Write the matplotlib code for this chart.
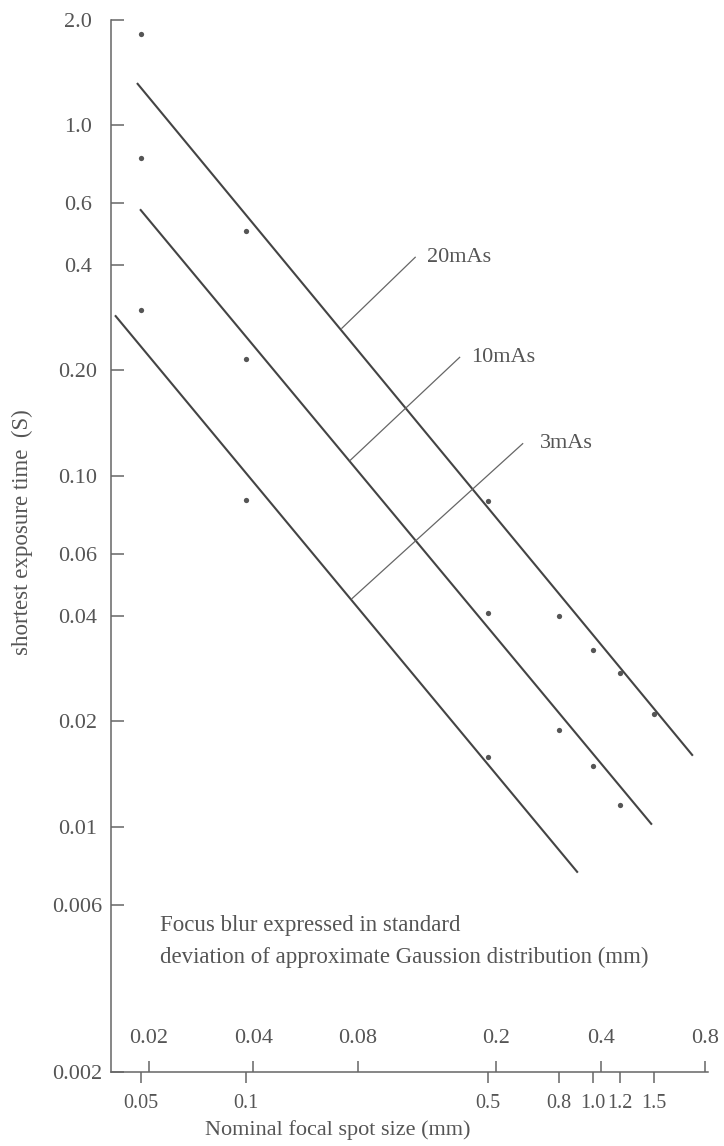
import matplotlib
matplotlib.use("Agg")
import matplotlib.pyplot as plt
from matplotlib.ticker import NullLocator, FixedLocator, FixedFormatter

plt.rcParams['font.family'] = ['Liberation Serif', 'DejaVu Serif']

# ---- measured exposure times (s) against nominal focal spot size (mm) ----
spot_20mAs = [0.05, 0.1, 0.5, 0.8, 1.0, 1.2, 1.5]
time_20mAs = [1.82, 0.50, 0.085, 0.040, 0.032, 0.0274, 0.0209]

spot_10mAs = [0.05, 0.1, 0.5, 0.8, 1.0, 1.2]
time_10mAs = [0.805, 0.216, 0.0406, 0.0189, 0.0149, 0.0115]

spot_3mAs = [0.05, 0.1, 0.5]
time_3mAs = [0.298, 0.0854, 0.0158]

# ---- fitted straight lines (log-log), start/end points ----
fit_labels = ["20mAs", "10mAs", "3mAs"]
fit_x_start = [0.0487, 0.0497, 0.0421]
fit_x_end = [1.94, 1.479, 0.905]
fit_y_start = [1.318, 0.5757, 0.287]
fit_y_end = [0.01594, 0.01014, 0.0074]

# leader lines from each fit to its label
leader_x_start = [0.1894, 0.200, 0.2025]
leader_y_start = [0.2636, 0.1107, 0.0447]
leader_x_end = [0.308, 0.4135, 0.628]
leader_y_end = [0.420, 0.2178, 0.1236]
label_x = [0.333, 0.446, 0.706]

# ---- axis ticks ----
y_ticks = [2.0, 1.0, 0.6, 0.4, 0.20, 0.10, 0.06, 0.04, 0.02, 0.01, 0.006, 0.002]
y_tick_labels = ["2.0", "1.0", "0.6", "0.4", "0.20", "0.10", "0.06", "0.04",
                 "0.02", "0.01", "0.006", "0.002"]
spot_ticks = [0.05, 0.1, 0.5, 0.8, 1.0, 1.2, 1.5]
spot_tick_labels = ["0.05", "0.1", "0.5", "0.8", "1.0", "1.2", "1.5"]
sigma_ticks = [0.02, 0.04, 0.08, 0.2, 0.4, 0.8]
sigma_tick_labels = ["0.02", "0.04", "0.08", "0.2", "0.4", "0.8"]
sigma_per_spot = 0.38  # Gaussian standard deviation per mm of nominal spot size

x_limits = (0.0410, 2.145)
y_limits = (0.002, 2.0)

TEXT = "#555555"
INK = "#444444"
AXIS = "#666666"
TICK_FS = 16
SPOT_FS = 14.5
NOTE_FS = 16.5

W, H = 724, 1146
fig = plt.figure(figsize=(W / 100, H / 100), dpi=100)
ax = fig.add_axes([111 / W, (H - 1072) / H, (708 - 111) / W, (1072 - 19.5) / H])

ax.set_xscale("log")
ax.set_yscale("log")
ax.set_xlim(*x_limits)
ax.set_ylim(*y_limits)

# points
for xs, ys in [(spot_20mAs, time_20mAs), (spot_10mAs, time_10mAs), (spot_3mAs, time_3mAs)]:
    ax.plot(xs, ys, linestyle="none", marker="o", markersize=3.8,
            color="#555555", markeredgewidth=0)

# fitted lines, leaders and labels
for i, name in enumerate(fit_labels):
    ax.plot([fit_x_start[i], fit_x_end[i]], [fit_y_start[i], fit_y_end[i]],
            color=INK, linewidth=1.5, solid_capstyle="butt")
    ax.plot([leader_x_start[i], leader_x_end[i]], [leader_y_start[i], leader_y_end[i]],
            color="#666666", linewidth=0.9)
    ax.text(label_x[i], leader_y_end[i], name, fontsize=16, color=TEXT,
            ha="left", va="center")

# spines
for side in ("top", "right"):
    ax.spines[side].set_visible(False)
for side in ("left", "bottom"):
    ax.spines[side].set_color(AXIS)
    ax.spines[side].set_linewidth(1.1)

# y axis ticks (inward, labels centred in a column)
ax.yaxis.set_major_locator(FixedLocator(y_ticks))
ax.yaxis.set_major_formatter(FixedFormatter(y_tick_labels))
ax.yaxis.set_minor_locator(NullLocator())
ax.tick_params(axis="y", direction="in", length=9, width=1.1, color=AXIS,
               labelsize=TICK_FS, labelcolor=TEXT, pad=24)
plt.setp(ax.get_yticklabels(), ha="center")

# nominal focal spot ticks (below the axis)
ax.xaxis.set_major_locator(FixedLocator(spot_ticks))
ax.xaxis.set_major_formatter(FixedFormatter(spot_tick_labels))
ax.xaxis.set_minor_locator(NullLocator())
ax.tick_params(axis="x", direction="out", length=8, width=1.1, color=AXIS,
               labelsize=SPOT_FS, labelcolor=TEXT, pad=8)

# Gaussian sigma scale drawn on the same baseline, ticks pointing up
sec = ax.secondary_xaxis(0, functions=(lambda n: n * sigma_per_spot,
                                       lambda s: s / sigma_per_spot))
sec.xaxis.set_major_locator(FixedLocator(sigma_ticks))
sec.xaxis.set_major_formatter(FixedFormatter(sigma_tick_labels))
sec.xaxis.set_minor_locator(NullLocator())
sec.xaxis.set_ticks_position("top")
sec.tick_params(axis="x", which="both", direction="out", length=8, width=1.1,
                color=AXIS, labelsize=TICK_FS, labelcolor=TEXT, pad=9,
                top=True, labeltop=True, bottom=False, labelbottom=False)
for sp in sec.spines.values():
    sp.set_visible(False)

# axis titles and explanatory note
fig.text(22 / W, 1 - 532 / H, "shortest exposure time  (S)", rotation=90,
         ha="center", va="center", fontsize=16.5, color=TEXT)
fig.text(338 / W, 1 - 1130 / H, "Nominal focal spot size (mm)",
         ha="center", va="center", fontsize=16, color=TEXT)
fig.text(160 / W, 1 - 925 / H, "Focus blur expressed in standard",
         ha="left", va="center", fontsize=NOTE_FS, color=TEXT)
fig.text(160 / W, 1 - 957 / H,
         "deviation of approximate Gaussion distribution (mm)",
         ha="left", va="center", fontsize=NOTE_FS, color=TEXT)

fig.savefig("out.png", dpi=100, facecolor="white")
